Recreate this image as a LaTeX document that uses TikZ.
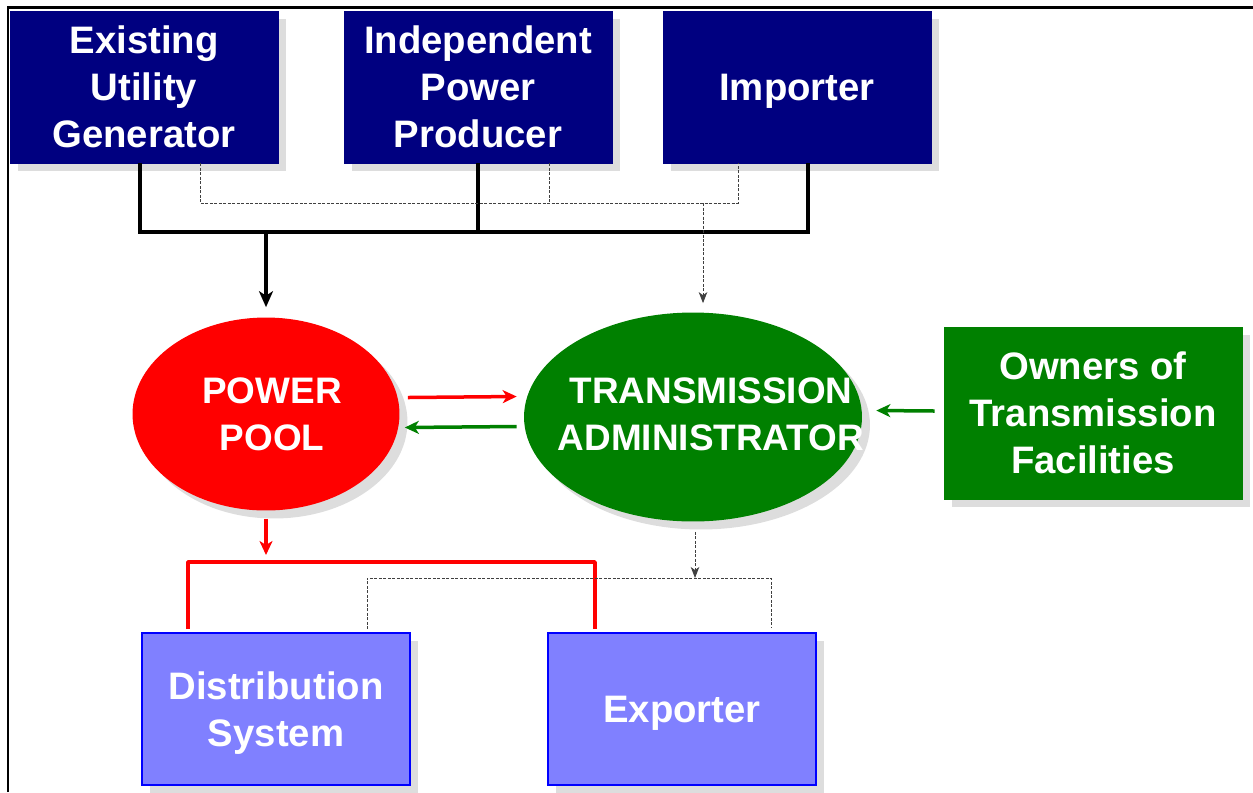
\documentclass[tikz,border=0pt]{standalone}
\usepackage{fontspec}
\setmainfont{Liberation Sans}
\usetikzlibrary{shapes.geometric, arrows.meta, shadows}
\definecolor{navycolor}{RGB}{0,0,128}
\definecolor{poolcolor}{RGB}{255,0,0}
\definecolor{gridcolor}{RGB}{0,128,0}
\definecolor{loadcolor}{RGB}{128,128,255}
\definecolor{shadowcolor}{RGB}{221,221,221}
\newcommand{\boxfont}{\fontsize{21.8}{26.7}\selectfont\bfseries}
\newcommand{\ovalfont}{\fontsize{21}{26.7}\selectfont\bfseries}

\begin{document}
\begin{tikzpicture}[
    x=0.02cm, y=-0.02cm,
    boxshadow/.style={drop shadow={shadow xshift=0.16cm, shadow yshift=-0.16cm, fill=shadowcolor, opacity=1}},
    supplier/.style={draw=navycolor, fill=navycolor, boxshadow, text=white, minimum width=5.36cm, minimum height=3.04cm, inner sep=0pt, align=center, font=\boxfont},
    owner/.style={supplier, draw=gridcolor, fill=gridcolor, minimum width=5.96cm, minimum height=3.44cm},
    customer/.style={supplier, draw=blue, fill=loadcolor, line width=0.04cm, text depth=0pt},
    oval/.style={ellipse, boxshadow, inner sep=0pt},
    ovaltext/.style={text=white, align=center, font=\ovalfont, inner sep=0pt},
    bus/.style={line width=0.075cm},
    busarrow/.style={bus, -{Stealth[length=0.32cm, width=0.28cm, inset=0.09cm]}},
    ctl/.style={line width=0.02cm, black!75, dash pattern=on 0.06cm off 0.03cm},
    ctlarrow/.style={ctl, -{Stealth[length=0.22cm, width=0.17cm, inset=0.06cm]}},
    redflow/.style={line width=0.07cm, poolcolor, -{Stealth[length=0.28cm, width=0.26cm, inset=0.08cm]}},
    greenflow/.style={line width=0.07cm, gridcolor, -{Stealth[length=0.28cm, width=0.26cm, inset=0.08cm]}},
    redbus/.style={line width=0.075cm, poolcolor, line join=round}
]
    \useasboundingbox (0,0) rectangle (1253,792);
    \draw[line width=0.06cm] (8,792) -- (8,7) -- (1253,7);

    % Suppliers
    \node[supplier] (gen) at (144,87) {Existing\\Utility\\Generator};
    \node[supplier] (ipp) at (478,87) {Independent\\Power\\Producer};
    \node[supplier, text depth=0pt] (imp) at (797,87) {Importer};

    % Pool and administrator
    \node[oval, fill=poolcolor, minimum width=5.34cm, minimum height=3.86cm] (pool) at (266,414) {};
    \node[ovaltext] (pooltxt) at (272,414) {POWER\\POOL};
    \node[oval, fill=gridcolor, minimum width=6.76cm, minimum height=4.18cm] (ta) at (693,417) {};
    \node[ovaltext] (tatxt) at (711,414) {TRANSMISSION\\ADMINISTRATOR};
    \node[owner] (own) at (1093,413) {Owners of\\Transmission\\Facilities};

    % Customers
    \node[customer] (dist) at (276,709) {Distribution\\System};
    \node[customer] (exp) at (682,709) {Exporter};

    % Energy bus
    \coordinate (busL) at (140,232);
    \coordinate (busR) at (808,232);
    \draw[bus] (gen.south -| busL) -- (busL) -- (busR) -- (imp.south -| busR);
    \draw[bus] (ipp.south) -- (ipp.south |- busL);
    \draw[busarrow, shorten >=0.2cm] (pool.north |- busL) -- (pool.north);

    % Schedules to the administrator
    \coordinate (ctlL) at (200,203);
    \coordinate (ctlM) at (549,203);
    \coordinate (ctlR) at (738,203);
    \coordinate (ctlA) at (703,203);
    \draw[ctl] (gen.south -| ctlL) -- (ctlL) -- (ctlR) -- (imp.south -| ctlR);
    \draw[ctl] (ipp.south -| ctlM) -- (ctlM);
    \draw[ctlarrow, shorten >=0.18cm] (ctlA) -- (ta.north -| ctlA);

    % Pool <-> administrator
    \draw[redflow] ([shift={(0.16cm,0.33cm)}]pool.east) -- ([shift={(-0.14cm,0.41cm)}]ta.west);
    \draw[greenflow] ([shift={(-0.14cm,-0.19cm)}]ta.west) -- ([shift={(0.1cm,-0.27cm)}]pool.east);
    \draw[greenflow] ([shift={(-0.18cm,0.04cm)}]own.west) -- ([shift={(0.28cm,0.13cm)}]ta.east);

    % Deliveries
    \coordinate (rbL) at (188,562);
    \coordinate (rbR) at (595,562);
    \draw[redflow, shorten >=0.14cm] ([yshift=-0.16cm]pool.south) -- (pool.south |- rbL);
    \draw[redbus] ([yshift=0.06cm]dist.north -| rbL) -- (rbL) -- (rbR) -- ([yshift=0.06cm]exp.north -| rbR);

    \coordinate (dbL) at (367,578);
    \coordinate (dbR) at (771,578);
    \coordinate (dbA) at (695,578);
    \draw[ctl] ([yshift=0.06cm]dist.north -| dbL) -- (dbL) -- (dbR) -- ([yshift=0.1cm]exp.north -| dbR);
    \draw[ctlarrow] ([yshift=-0.2cm]ta.south -| dbA) -- (dbA);
\end{tikzpicture}
\end{document}
